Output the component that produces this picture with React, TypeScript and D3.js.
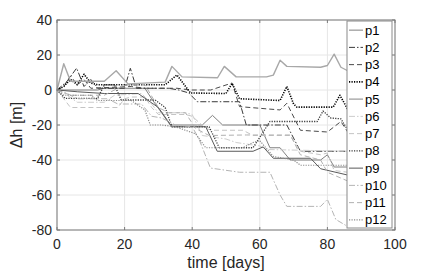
import React from "react";
import * as d3 from "d3";

type Pt = [number, number];

// breakpoints: [day, dh]
const p1: Pt[] = [[0, 0], [12, 0], [14, 1], [26, 1], [28, -5], [33.5, -20], [43, -20], [46, -14.5], [49, -20], [60, -20], [63, -33], [66, -33], [69, -40], [78, -40], [80, -37], [82, -44], [86, -44]];
const p2: Pt[] = [[0, 0], [3, 5], [5.8, 12.5], [8, 2], [10, 6], [12, 1], [20, 1], [21.7, 12.4], [23.5, 1], [33, 1], [36, 0], [39, -1.7], [41.5, -6.7], [54, -6.7], [56, -20], [68, -20], [72, -35], [86, -35]];
const p3: Pt[] = [[0, 0], [2, 2], [4, 8], [6, 3], [8, 6], [10, 1], [22, 2], [26, 1], [35.5, 1], [39.5, 0], [45.5, 0], [51.8, 4], [54, -9.5], [66, -11.4], [68, -7.6], [72, -23], [80, -24], [84, -18], [86, -24]];
const p4: Pt[] = [[0, 0], [2, 2], [4, 6], [6, 3], [8, 9], [10, 4], [12, 3], [32, 3], [35.5, 8.6], [39.5, -1.7], [50, -2], [51.8, 3.8], [54, -5], [66, -6], [68, 2], [70, -8], [71, -9.8], [81.7, -9.8], [83.7, -3], [86, -11]];
const p5: Pt[] = [[0, 0], [2, 15], [4, 5], [14, 5], [17.5, 11], [21, 3.5], [32, 4.5], [34, 13.5], [37, 7.5], [47.5, 7], [49.5, 13.5], [53, 7.5], [62, 7.5], [64, 8.5], [66, 17], [68, 13.5], [78, 13], [80, 14], [82, 20.5], [84, 13], [86, 11]];
const p6: Pt[] = [[0, 0], [3, -3], [6, -7], [14, -7], [17, -3], [25, -2], [28, -8], [30, -13], [38, -13], [40, -14], [43, -26], [50, -28], [53, -30], [60, -32], [62, -34], [86, -35]];
const p7: Pt[] = [[0, 0], [2, -5], [4, -10], [18, -10], [20, -5], [22, -4], [26, -4], [28, -10], [30, -14], [38, -14], [40, -15], [44, -22], [46, -23], [55, -23], [58, -26], [69, -26], [72, -35], [78, -37], [80, -36], [82, -46], [86, -47]];
const p8: Pt[] = [[0, 0], [2.4, -4.8], [12, -4.8], [14, 2.9], [17, 3], [19, -5.7], [29, -5.7], [32, -10], [34, -21], [45, -21], [48, -33], [58, -33], [63, -18], [77, -18], [78.7, -12], [81, -16], [84, -16.5], [86, -22.8]];
const p9: Pt[] = [[0, 0], [6, -1], [14, -2], [24, -2], [27, -6], [30, -10], [34, -21], [44, -21], [47.4, -35], [58, -35], [61, -32.5], [64, -39], [75, -39], [78, -45], [86, -48.6]];
const p10: Pt[] = [[0, 0], [3, -2], [6, -5], [15, -5], [18, -8], [25, -8], [28, -15], [31, -16], [35, -20], [40, -21], [42, -28], [45.4, -44.6], [54, -47], [63, -47], [66, -60], [68, -66.5], [78, -66.5], [80, -62.5], [82.5, -74], [86, -78]];
const p11: Pt[] = [[0, 0], [4, -3], [14, -3], [20, 3], [26, 3], [30, -10], [33, -13], [38, -13], [41, -22], [45, -26], [56, -25.7], [69, -25.7], [72, -37], [74, -38], [78, -40], [80, -47], [86, -52]];
const p12: Pt[] = [[0, 0], [2, -3], [10, -3], [12, -6], [22, -6], [26, -11.4], [27.6, -20], [31, -20], [35, -21], [41, -25], [44, -33], [55, -33], [58, -30], [60, -29], [64, -38], [70, -40], [72, -43], [86, -43]];

const names = ["p1", "p2", "p3", "p4", "p5", "p6", "p7", "p8", "p9", "p10", "p11", "p12"];
const seriesList = [p1, p2, p3, p4, p5, p6, p7, p8, p9, p10, p11, p12];

const xTicks = [0, 20, 40, 60, 80, 100];
const yTicks = [40, 20, 0, -20, -40, -60, -80];

const SOLID = "none";
const DASHDOT = "6,2,1.5,2";
const DASHED = "5,3";
const DOTTED = "1.2,1.3";

const styles = [
  { color: "#808080", dash: SOLID, w: 1 },
  { color: "#3a3a3a", dash: DASHDOT, w: 1 },
  { color: "#4a4a4a", dash: DASHED, w: 1 },
  { color: "#000000", dash: DOTTED, w: 1.6 },
  { color: "#a8a8a8", dash: SOLID, w: 1.4 },
  { color: "#cccccc", dash: DASHDOT, w: 1 },
  { color: "#c4c4c4", dash: DASHED, w: 1 },
  { color: "#383838", dash: DOTTED, w: 1.3 },
  { color: "#5a5a5a", dash: SOLID, w: 1 },
  { color: "#b4b4b4", dash: DASHDOT, w: 1 },
  { color: "#b0b0b0", dash: DASHED, w: 1 },
  { color: "#8c8c8c", dash: DOTTED, w: 1.2 },
];

const FONT = "'Liberation Sans', Arial, Helvetica, sans-serif";

export default function App() {
  const width = 436;
  const height = 273;
  const left = 57, right = 395, top = 20, bottom = 230;

  const x = d3.scaleLinear().domain([0, 100]).range([left, right]);
  const y = d3.scaleLinear().domain([-80, 40]).range([bottom, top]);

  const line = d3.line<Pt>()
    .x(d => x(d[0]))
    .y(d => y(d[1]));

  // legend box
  const legX0 = 347, legX1 = 392, legY0 = 21, legY1 = 228;
  const legStep = (legY1 - legY0) / names.length;

  return (
    <svg width={width} height={height} style={{ position: "absolute", left: 0, top: 0, background: "#fff" }}>
      <rect x={0} y={0} width={width} height={height} fill="#fff" />
      {/* grid */}
      {xTicks.map(t => (
        <line key={"gx" + t} x1={x(t)} x2={x(t)} y1={top} y2={bottom} stroke="#e6e6e6" strokeWidth={1} />
      ))}
      {yTicks.map(t => (
        <line key={"gy" + t} x1={left} x2={right} y1={y(t)} y2={y(t)} stroke="#e6e6e6" strokeWidth={1} />
      ))}

      {/* series */}
      <g>
        {seriesList.map((s, i) => (
          <path
            key={names[i]}
            d={line(s) || ""}
            fill="none"
            stroke={styles[i].color}
            strokeWidth={styles[i].w}
            strokeDasharray={styles[i].dash}
            strokeLinejoin="round"
          />
        ))}
      </g>

      {/* axes box and ticks */}
      <rect x={left} y={top} width={right - left} height={bottom - top} fill="none" stroke="#7a7a7a" strokeWidth={1} />
      {xTicks.map(t => (
        <g key={"tx" + t}>
          <line x1={x(t)} x2={x(t)} y1={bottom} y2={bottom - 3} stroke="#7a7a7a" />
          <line x1={x(t)} x2={x(t)} y1={top} y2={top + 3} stroke="#7a7a7a" />
          <text x={x(t)} y={bottom + 19} textAnchor="middle" fontFamily={FONT} fontSize={14} fill="#262626">{t}</text>
        </g>
      ))}
      {yTicks.map(t => (
        <g key={"ty" + t}>
          <line x1={left} x2={left + 3} y1={y(t)} y2={y(t)} stroke="#7a7a7a" />
          <line x1={right} x2={right - 3} y1={y(t)} y2={y(t)} stroke="#7a7a7a" />
          <text x={left - 5} y={y(t) + 5} textAnchor="end" fontFamily={FONT} fontSize={14} fill="#262626">{t}</text>
        </g>
      ))}

      <text x={(left + right) / 2} y={268} textAnchor="middle" fontFamily={FONT} fontSize={16} fill="#262626">time [days]</text>
      <text transform={`translate(22, ${(top + bottom) / 2}) rotate(-90)`} textAnchor="middle" fontFamily={FONT} fontSize={16} fill="#262626">Δh [m]</text>

      {/* legend */}
      <rect x={legX0} y={legY0} width={legX1 - legX0} height={legY1 - legY0} fill="#fff" stroke="#8a8a8a" strokeWidth={1} />
      {names.map((n, i) => {
        const cy = legY0 + legStep * (i + 0.5) + 0.5;
        return (
          <g key={"leg" + n}>
            <line x1={legX0 + 2} x2={legX0 + 16} y1={cy} y2={cy} stroke={styles[i].color} strokeWidth={styles[i].w} strokeDasharray={styles[i].dash} />
            <text x={legX0 + 18} y={cy + 4.5} fontFamily={FONT} fontSize={13} fill="#000">{n}</text>
          </g>
        );
      })}
    </svg>
  );
}
